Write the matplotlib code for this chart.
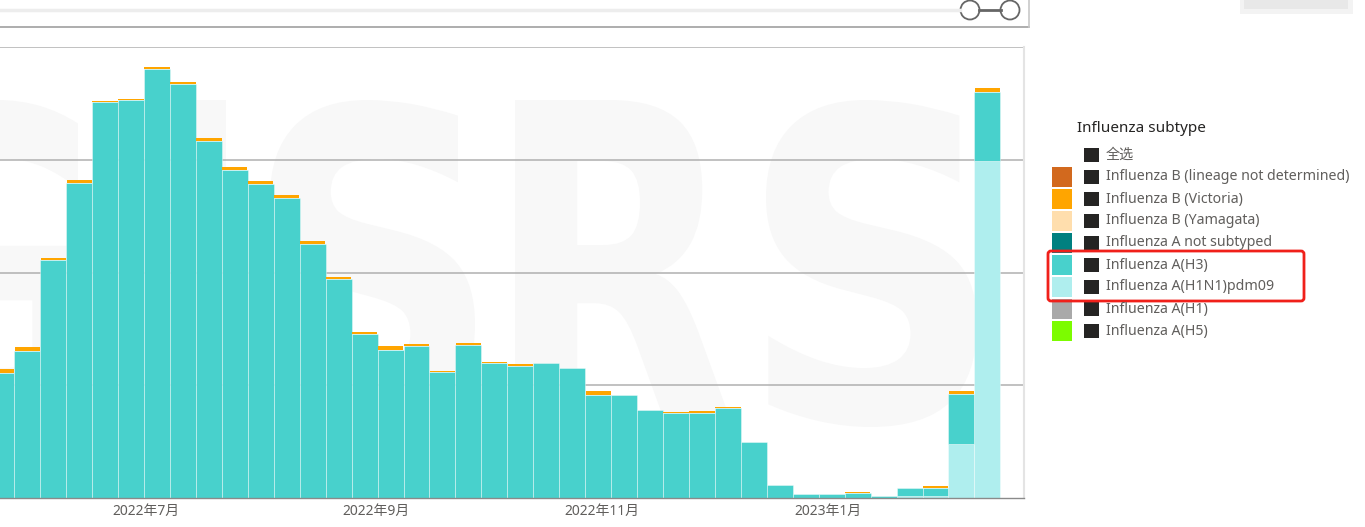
import matplotlib
matplotlib.use('Agg')
import matplotlib.pyplot as plt
import matplotlib.dates as mdates
from matplotlib.ticker import FuncFormatter
from matplotlib.patches import Rectangle, FancyBboxPatch, Circle, PathPatch
from matplotlib.textpath import TextPath
from matplotlib.font_manager import FontProperties
from matplotlib.transforms import Affine2D
import numpy as np
import pandas as pd

plt.rcParams['font.family'] = ['Noto Sans', 'Noto Sans CJK SC', 'DejaVu Sans']

# weekly positives (arbitrary units, one gridline = 100)
weeks = pd.date_range('2022-05-23', periods=39, freq='7D')
h1n1 = [0, 0, 0, 0, 0, 0, 0, 0, 0, 0, 0, 0, 0, 0, 0, 0, 0, 0, 0, 0,
        0, 0, 0, 0, 0, 0, 0, 0, 0, 0, 0, 0, 0, 0, 0, 1.5, 2.1, 47.6, 299.3]
h3 = [110.6, 130.2, 211.2, 279.0, 351.4, 353.2, 380.1, 367.3, 316.8, 290.5,
      278.6, 266.2, 225.7, 194.3, 145.5, 131.7, 134.9, 111.8, 136.1, 120.1,
      117.1, 119.3, 115.7, 91.4, 91.7, 78.4, 75.4, 75.8, 80.2, 49.4,
      11.3, 3.9, 3.3, 4.4, 2.1, 7.4, 7.1, 45.0, 60.7]
victoria = [3.5, 3.3, 2.1, 2.7, 0.9, 0.3, 2.3, 2.1, 2.4, 2.9,
            2.4, 2.4, 2.0, 1.5, 1.8, 2.9, 1.5, 0.6, 1.2, 0.3,
            1.5, 0.5, 0.0, 3.8, 0.0, 0.0, 0.6, 1.4, 0.5, 0.0,
            0.0, 0.0, 0.0, 0.6, 0.0, 0.0, 1.2, 2.0, 3.5]

legend_title = 'Influenza subtype'
select_all = '全选'
legend_labels = ['Influenza B (lineage not determined)', 'Influenza B (Victoria)',
                 'Influenza B (Yamagata)', 'Influenza A not subtyped', 'Influenza A(H3)',
                 'Influenza A(H1N1)pdm09', 'Influenza A(H1)', 'Influenza A(H5)']
legend_colors = ['#D2691E', '#FFA500', '#FFDEAD', '#008080', '#48D1CC',
                 '#AFEEEE', '#A9A9A9', '#7CFC00']

W, H = 1365, 527
fig = plt.figure(figsize=(W / 100, H / 100), dpi=100)

# background layer with the faint watermark
bg = fig.add_axes([0, 0, 1, 1], zorder=0)
bg.set_xlim(0, W)
bg.set_ylim(H, 0)
bg.axis('off')
fp = FontProperties(family='DejaVu Sans', weight='bold')
for ch, x0, x1 in [('G', -124, 86), ('I', 140, 226), ('S', 270, 475), ('R', 515, 733), ('S', 766, 977)]:
    tp = TextPath((0, 0), ch, size=100, prop=fp)
    bb = tp.get_extents()
    tr = (Affine2D().translate(-bb.x0, -bb.y0)
          .scale((x1 - x0) / bb.width, -(427 - 100) / bb.height)
          .translate(x0, 427))
    bg.add_patch(PathPatch(tr.transform_path(tp), fc='#f8f8f8', ec='none'))

# main chart
ax = fig.add_axes([0, 29 / H, 1024 / W, 451 / H], zorder=1)
ax.patch.set_alpha(0)
edge = dict(edgecolor=(1, 1, 1, 0.55), linewidth=0.5)
ax.bar(weeks, h1n1, width=7, color='#AFEEEE', **edge)
ax.bar(weeks, h3, bottom=h1n1, width=7, color='#48D1CC', **edge)
ax.bar(weeks, victoria, bottom=np.add(h1n1, h3), width=6.8, color='#FFA500')

px_per_day = 25.95 / 7
left = mdates.date2num(pd.Timestamp('2022-07-04')) - 157 / px_per_day
ax.set_xlim(left, left + 1024 / px_per_day)
ax.set_ylim(0, 400)
ax.set_yticks([100, 200, 300, 400])
ax.yaxis.grid(True, color='#b0b0b0', lw=1.1)
ax.set_axisbelow(True)
ax.tick_params(axis='y', length=0, labelleft=False)

ax.xaxis.set_major_locator(mdates.MonthLocator(bymonth=[1, 3, 5, 7, 9, 11]))
ax.xaxis.set_major_formatter(FuncFormatter(
    lambda v, p: f'{mdates.num2date(v).year}年{mdates.num2date(v).month}月'))
ax.tick_params(axis='x', length=0, pad=4, labelsize=10, labelcolor='#605E5C')

for s in ['left', 'top']:
    ax.spines[s].set_visible(False)
ax.spines['right'].set_color('#e4e4e4')
ax.spines['right'].set_linewidth(1.5)
ax.spines['bottom'].set_color('#8a8a8a')
ax.spines['bottom'].set_linewidth(1.0)

# overlay: slicer bar and legend
ov = fig.add_axes([0, 0, 1, 1], zorder=2)
ov.set_xlim(0, W)
ov.set_ylim(H, 0)
ov.axis('off')

ov.plot([0, 960], [10, 10], color='#ededed', lw=2.5)
ov.plot([0, 1029], [27, 27], color='#a0a0a0', lw=1.2)
ov.plot([1029, 1029], [0, 27], color='#c8c8c8', lw=1.2)
ov.plot([979, 1001], [10, 10], color='#666666', lw=2)
for cx in [970, 1010]:
    ov.add_patch(Circle((cx, 10), 9.5, fc='white', ec='#666666', lw=1.3))
ov.add_patch(Rectangle((1240, -6), 113, 20, fc='#f3f3f3', ec='none'))
ov.add_patch(Rectangle((1244, -6), 104, 15, fc='#e8e8e8', ec='none'))

ov.text(1077, 129, legend_title, fontsize=11, weight='bold', color='#252423', va='center')
ov.add_patch(Rectangle((1084, 155 - 7), 15, 14, fc='#252423', ec='none'))
ov.text(1106, 155, select_all, fontsize=10.2, color='#605E5C', va='center')
for i, (lab, col) in enumerate(zip(legend_labels, legend_colors)):
    y = 155 + 22 * (i + 1)
    ov.add_patch(Rectangle((1052, y - 10), 20, 20, fc=col, ec='none'))
    ov.add_patch(Rectangle((1084, y - 7), 15, 14, fc='#252423', ec='none'))
    ov.text(1106, y, lab, fontsize=10.2, color='#605E5C', va='center')

ov.add_patch(FancyBboxPatch((1048, 251), 256, 50, boxstyle='round,pad=0,rounding_size=3',
                            fc='none', ec='#F0201A', lw=2))

fig.savefig('out.png', dpi=100)
